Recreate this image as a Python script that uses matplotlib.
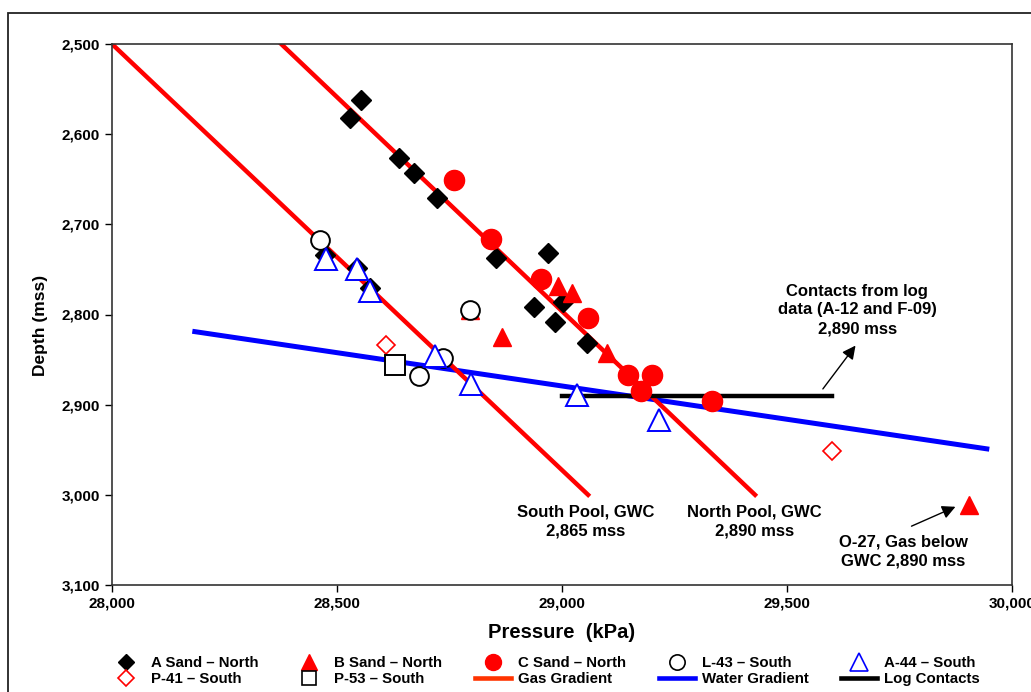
import matplotlib.pyplot as plt
from matplotlib.lines import Line2D
from matplotlib.patches import Rectangle
from matplotlib.ticker import FuncFormatter

plt.rcParams['font.family'] = ['Liberation Sans', 'DejaVu Sans']
plt.rcParams['font.weight'] = 'bold'

# pressure (kPa) / depth (mss) readings
a_sand_x = [28473, 28544, 28573, 28529, 28553, 28638, 28671, 28722, 28853, 28969, 28938, 29002, 28984, 29056]
a_sand_y = [2734, 2748, 2771, 2582, 2562, 2626, 2643, 2671, 2737, 2732, 2792, 2786, 2808, 2832]

b_sand_x = [28796, 28867, 28991, 29022, 29100, 29904]
b_sand_y = [2795, 2825, 2768, 2776, 2843, 3011]

c_sand_x = [28760, 28842, 28953, 29058, 29147, 29200, 29176, 29333]
c_sand_y = [2651, 2716, 2761, 2804, 2867, 2867, 2885, 2896]

l43_x = [28462, 28796, 28736, 28682]
l43_y = [2717, 2795, 2848, 2868]

a44_x = [28476, 28544, 28573, 28718, 28798, 29033, 29216]
a44_y = [2738, 2750, 2774, 2846, 2877, 2889, 2917]

p41_x = [28609, 29600]
p41_y = [2834, 2951]

p53_x = [28629]
p53_y = [2856]

# gradient lines
south_gas_x = [28000, 29058]
south_gas_y = [2500, 3000]
north_gas_x = [28376, 29429]
north_gas_y = [2500, 3000]
water_x = [28184, 29944]
water_y = [2819, 2949]
log_x = [29000, 29600]
log_y = [2890, 2890]

xticks = [28000, 28500, 29000, 29500, 30000]
yticks = [2500, 2600, 2700, 2800, 2900, 3000, 3100]

fig = plt.figure(figsize=(10.31, 6.92), dpi=100)
ax = fig.add_axes([112/1031, 1-585/692, 900/1031, 541/692])

# outer frame
fig.add_artist(Rectangle((8/1031, -0.1), 1.2, 1.1 - 13/692,
                         transform=fig.transFigure, fill=False,
                         edgecolor='#222222', lw=1.3))

ax.plot(water_x, water_y, color='#0000ff', lw=3.6, zorder=2)
ax.plot(south_gas_x, south_gas_y, color='#ff0000', lw=3.2, zorder=2)
ax.plot(north_gas_x, north_gas_y, color='#ff0000', lw=3.2, zorder=2)
ax.plot(log_x, log_y, color='black', lw=3.2, zorder=2)

ax.plot(a_sand_x, a_sand_y, 'D', color='black', ms=10.5, ls='none', zorder=3)
ax.plot(c_sand_x, c_sand_y, 'o', color='#ff0000', ms=14.5, ls='none', zorder=4)
ax.plot(b_sand_x, b_sand_y, '^', color='#ff0000', ms=13.5, ls='none', zorder=5)
ax.plot(l43_x, l43_y, 'o', mfc='white', mec='black', mew=1.4, ms=13.5, ls='none', zorder=6)
ax.plot(a44_x, a44_y, '^', mfc='white', mec='#0000ff', mew=1.4, ms=16, ls='none', zorder=7)
ax.plot(p41_x, p41_y, 'D', mfc='white', mec='#ff0000', mew=1.2, ms=9, ls='none', zorder=7)
ax.plot(p53_x, p53_y, 's', mfc='white', mec='black', mew=1.4, ms=14, ls='none', zorder=7)

ax.set_xlim(28000, 30000)
ax.set_ylim(3100, 2500)
ax.set_xticks(xticks)
ax.set_yticks(yticks)
fmt = FuncFormatter(lambda v, p: f'{int(v):,}')
ax.xaxis.set_major_formatter(fmt)
ax.yaxis.set_major_formatter(fmt)
ax.tick_params(direction='out', length=5, width=1, labelsize=11, colors='black')
for s in ax.spines.values():
    s.set_color('#333333')
    s.set_linewidth(1.2)

ax.set_xlabel('Pressure  (kPa)', fontsize=14.5, fontweight='bold', labelpad=9)
ax.set_ylabel('Depth (mss)', fontsize=12.5, fontweight='bold')
ax.yaxis.set_label_coords(-0.071, 0.48)

# annotations
txt = dict(ha='center', va='center', fontsize=12, fontweight='bold', linespacing=1.32)
ax.annotate('', xy=(29656, 2832), xytext=(29576, 2885),
            arrowprops=dict(arrowstyle='-|>', color='black', lw=1, mutation_scale=20))
ax.text(29656, 2795, 'Contacts from log\ndata (A-12 and F-09)\n2,890 mss', **txt)
ax.annotate('', xy=(29880, 3012), xytext=(29771, 3036),
            arrowprops=dict(arrowstyle='-|>', color='black', lw=1, mutation_scale=20))
ax.text(29758, 3063, 'O-27, Gas below\nGWC 2,890 mss', **txt)
ax.text(29053, 3030, 'South Pool, GWC\n2,865 mss', **txt)
ax.text(29427, 3030, 'North Pool, GWC\n2,890 mss', **txt)

handles = [
    Line2D([], [], marker='D', color='black', ls='none', ms=8, label='A Sand \u2013 North'),
    Line2D([], [], marker='D', mfc='white', mec='#ff0000', mew=1.2, ls='none', ms=8, label='P-41 \u2013 South'),
    Line2D([], [], marker='^', color='#ff0000', ls='none', ms=12, label='B Sand \u2013 North'),
    Line2D([], [], marker='s', mfc='white', mec='black', mew=1.2, ls='none', ms=10.5, label='P-53 \u2013 South'),
    Line2D([], [], marker='o', color='#ff0000', ls='none', ms=11.5, label='C Sand \u2013 North'),
    Line2D([], [], color='#ff3300', lw=3.3, label='Gas Gradient'),
    Line2D([], [], marker='o', mfc='white', mec='black', mew=1.2, ls='none', ms=11, label='L-43 \u2013 South'),
    Line2D([], [], color='#0000ff', lw=3.3, label='Water Gradient'),
    Line2D([], [], marker='^', mfc='white', mec='#0000ff', mew=1.2, ls='none', ms=13, label='A-44 \u2013 South'),
    Line2D([], [], color='black', lw=3.3, label='Log Contacts'),
]
fig.legend(handles=handles, ncol=5, loc='center', bbox_to_anchor=(544/1031, 1-671/692),
           frameon=False, fontsize=10.8, handlelength=2.4, handletextpad=0.45,
           columnspacing=2.2, labelspacing=0.15, borderpad=0)

fig.savefig('out.png', dpi=100)
